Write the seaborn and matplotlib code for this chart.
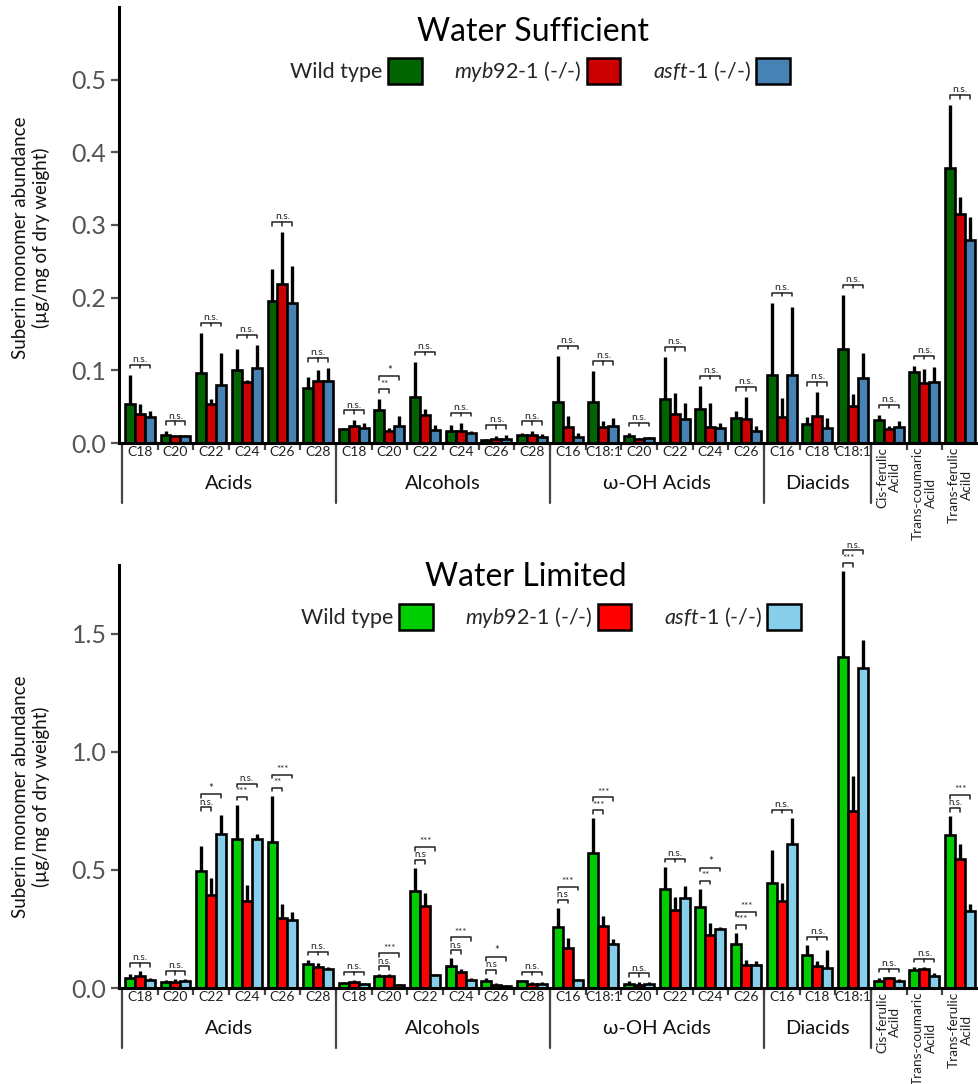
import matplotlib
matplotlib.use("Agg")
import matplotlib.pyplot as plt
import matplotlib.transforms as mtransforms
from matplotlib.patches import Patch
import numpy as np
import pandas as pd
import seaborn as sns

# ---------------- data ----------------
cat_labels = ["C18", "C20", "C22", "C24", "C26", "C28",
              "C18", "C20", "C22", "C24", "C26", "C28",
              "C16", "C18:1", "C20", "C22", "C24", "C26",
              "C16", "C18", "C18:1",
              "Cis-ferulic\nAcild", "Trans-coumaric\nAcild", "Trans-ferulic\nAcild"]
group_names = ["Acids", "Alcohols", "ω-OH Acids", "Diacids"]
group_sizes = [6, 6, 6, 3]
genotypes = ["Wild type", "myb92-1 (-/-)", "asft-1 (-/-)"]
legend_labels = ["Wild type", r"$\mathit{myb92}$-1 (-/-)", r"$\mathit{asft}$-1 (-/-)"]

# Water sufficient
ws_wt = [0.054, 0.011, 0.096, 0.100, 0.196, 0.076,
         0.019, 0.045, 0.063, 0.016, 0.004, 0.011,
         0.056, 0.057, 0.010, 0.060, 0.047, 0.035,
         0.094, 0.026, 0.129,
         0.031, 0.098, 0.378]
ws_wt_err = [0.040, 0.005, 0.056, 0.029, 0.043, 0.015,
             0.002, 0.015, 0.049, 0.009, 0.002, 0.003,
             0.064, 0.042, 0.004, 0.058, 0.032, 0.009,
             0.099, 0.010, 0.075,
             0.008, 0.008, 0.087]
ws_myb = [0.040, 0.009, 0.053, 0.084, 0.219, 0.086,
          0.023, 0.017, 0.039, 0.016, 0.0055, 0.011,
          0.022, 0.022, 0.005, 0.040, 0.022, 0.033,
          0.036, 0.037, 0.0505,
          0.019, 0.082, 0.3145]
ws_myb_err = [0.014, 0.002, 0.007, 0.003, 0.071, 0.015,
              0.008, 0.004, 0.008, 0.012, 0.0045, 0.005,
              0.015, 0.008, 0.002, 0.029, 0.033, 0.030,
              0.026, 0.033, 0.0175,
              0.005, 0.020, 0.0235]
ws_asft = [0.036, 0.010, 0.080, 0.103, 0.192, 0.085,
           0.021, 0.024, 0.018, 0.014, 0.006, 0.008,
           0.008, 0.024, 0.007, 0.033, 0.020, 0.0165,
           0.093, 0.021, 0.089,
           0.0216, 0.084, 0.280]
ws_asft_err = [0.008, 0.001, 0.044, 0.032, 0.051, 0.018,
               0.007, 0.013, 0.007, 0.003, 0.005, 0.005,
               0.006, 0.010, 0.001, 0.022, 0.007, 0.0065,
               0.094, 0.013, 0.035,
               0.008, 0.021, 0.031]
ws_sig = ["n.s."] * 7 + [("**", "*")] + ["n.s."] * 16

# Water limited
wl_wt = [0.0425, 0.0255, 0.496, 0.629, 0.620, 0.1006,
         0.020, 0.051, 0.411, 0.092, 0.028, 0.028,
         0.259, 0.572, 0.017, 0.421, 0.343, 0.186,
         0.446, 0.140, 1.401,
         0.030, 0.075, 0.646]
wl_wt_err = [0.0155, 0.0075, 0.104, 0.147, 0.193, 0.019,
             0.007, 0.007, 0.096, 0.033, 0.014, 0.006,
             0.081, 0.146, 0.011, 0.092, 0.078, 0.046,
             0.140, 0.043, 0.363,
             0.011, 0.013, 0.082]
wl_myb = [0.051, 0.0255, 0.392, 0.368, 0.297, 0.0907,
          0.024, 0.051, 0.348, 0.068, 0.0127, 0.018,
          0.169, 0.262, 0.014, 0.331, 0.224, 0.096,
          0.370, 0.0935, 0.749,
          0.041, 0.079, 0.548]
wl_myb_err = [0.020, 0.0125, 0.075, 0.068, 0.057, 0.014,
              0.010, 0.007, 0.054, 0.011, 0.010, 0.007,
              0.043, 0.041, 0.010, 0.054, 0.052, 0.024,
              0.076, 0.0225, 0.149,
              0.007, 0.012, 0.060]
wl_asft = [0.033, 0.031, 0.653, 0.630, 0.289, 0.081,
           0.0156, 0.0127, 0.054, 0.034, 0.0085, 0.017,
           0.033, 0.188, 0.017, 0.381, 0.251, 0.099,
           0.608, 0.086, 1.353,
           0.030, 0.052, 0.326]
wl_asft_err = [0.008, 0.007, 0.078, 0.024, 0.031, 0.007,
               0.004, 0.004, 0.006, 0.008, 0.0045, 0.007,
               0.005, 0.020, 0.007, 0.050, 0.007, 0.017,
               0.113, 0.073, 0.120,
               0.008, 0.010, 0.028]
wl_sig = ["n.s.", "n.s.", ("n.s.", "*"), ("***", "n.s."), ("**", "***"), "n.s.",
          "n.s.", ("n.s.", "***"), ("n.s", "***"), ("n.s", "***"), ("n.s", "*"), "n.s.",
          ("n.s", "***"), ("***", "***"), "n.s.", "n.s.", ("**", "*"), ("***", "***"),
          "n.s.", "n.s.", ("***", "n.s."),
          "n.s.", "n.s.", ("n.s.", "***")]

top_colors = ["#006400", "#cc0000", "#4682b4"]
bot_colors = ["#00cc00", "#ff0000", "#87ceeb"]

# ---------------- style ----------------
sns.set_style("white")
plt.rcParams["font.family"] = ["Lato", "DejaVu Sans"]
plt.rcParams["mathtext.fontset"] = "custom"
plt.rcParams["mathtext.it"] = "Lato:italic"
plt.rcParams["mathtext.rm"] = "Lato"

W, H = 979, 1084
fig = plt.figure(figsize=(W / 100, H / 100), dpi=100)

cat_keys = [f"{i}:{l}" for i, l in enumerate(cat_labels)]


def make_df(wt, myb, asft):
    rows = []
    for g, vals in zip(genotypes, [wt, myb, asft]):
        for k, v in zip(cat_keys, vals):
            rows.append({"key": k, "genotype": g, "value": v})
    return pd.DataFrame(rows)


def panel(ax_rect, ymax, yticks, ytick_labels, vals, errs, sigs, colors,
          offset_px, step_px):
    ax = fig.add_axes(ax_rect)
    df = make_df(*vals)
    sns.barplot(data=df, x="key", y="value", hue="genotype", order=cat_keys,
                hue_order=genotypes, palette=colors, width=0.84, gap=0,
                errorbar=None, edgecolor="black", linewidth=1.9,
                saturation=1, legend=False, ax=ax, zorder=2)
    n = len(cat_keys)
    ax.set_xlim(-0.584, n - 0.5 + 0.03)
    ax.set_ylim(0, ymax)
    upp = ymax / ax.bbox.height  # data units per pixel

    # error bars (upward only)
    conts = sorted(ax.containers, key=lambda c: c.patches[0].get_x())
    centers = []
    tops = []
    for ci, cont in enumerate(conts):
        pats = sorted(cont.patches, key=lambda p: p.get_x())
        xc = [p.get_x() + p.get_width() / 2 for p in pats]
        hs = [p.get_height() for p in pats]
        e = errs[ci]
        ax.vlines(xc, hs, [h + ee for h, ee in zip(hs, e)], color="black",
                  linewidth=2.4, zorder=3, clip_on=False)
        centers.append(xc)
        tops.append([h + ee for h, ee in zip(hs, e)])

    # significance brackets
    th = 3.5 * upp
    for i in range(n):
        xw, xm, xa = centers[0][i], centers[1][i], centers[2][i]
        ymaxg = max(tops[0][i], tops[1][i], tops[2][i])
        y1 = ymaxg + offset_px * upp
        s = sigs[i]
        if isinstance(s, tuple):
            pairs = [((xw, xm), s[0], y1), ((xw, xa), s[1], y1 + step_px * upp)]
            for (xa_, xb_), lab, yy in pairs:
                ax.plot([xa_, xa_, xb_, xb_], [yy - th, yy, yy, yy - th],
                        color="#222", lw=1.1, clip_on=False, zorder=4)
                ax.text((xa_ + xb_) / 2, yy + 0.8 * upp, lab, ha="center",
                        va="bottom", fontsize=7 if lab != "*" else 8,
                        color="#222", clip_on=False)
        else:
            ax.plot([xw, xw, xa, xa], [y1 - th, y1, y1, y1 - th],
                    color="#222", lw=1.1, clip_on=False, zorder=4)
            ax.plot([xm, xm], [y1, y1 - th], color="#222", lw=1.1,
                    clip_on=False, zorder=4)
            ax.text(xm, y1 + 0.8 * upp, s, ha="center", va="bottom",
                    fontsize=7.5, color="#222", clip_on=False)

    # axes styling
    sns.despine(ax=ax)
    ax.spines["left"].set_linewidth(2.2)
    ax.spines["bottom"].set_linewidth(2.2)
    ax.spines["left"].set_color("black")
    ax.spines["bottom"].set_color("black")
    ax.set_xlabel("")
    ax.set_ylabel("")
    ax.set_yticks(yticks)
    ax.set_yticklabels(ytick_labels, fontsize=18, color="#555555")
    ax.tick_params(axis="y", length=6, width=1.6, color="#555555", pad=3,
                   left=True)
    ax.set_xticks(range(n))
    ax.set_xticklabels(cat_labels, fontsize=10, color="#222")
    ax.tick_params(axis="x", which="major", length=0, pad=2.5, bottom=True)
    ax.set_xticks(np.arange(0.5, n - 1, 1), minor=True)
    ax.tick_params(axis="x", which="minor", length=5, width=1.6,
                   color="#444", bottom=True, direction="out")
    for lab in ax.get_xticklabels()[-3:]:
        lab.set_rotation(90)
        lab.set_va("top")
        lab.set_ha("center")
        lab.set_multialignment("center")
        lab.set_fontsize(9.8)
        lab.set_linespacing(1.1)

    # group separators and labels
    hpx = ax.bbox.height
    bounds = np.cumsum([0] + group_sizes) - 0.5
    for b in bounds:
        ax.plot([b, b], [0, -60 / hpx], transform=ax.get_xaxis_transform(),
                color="#444", lw=1.6, clip_on=False)
    for gi, name in enumerate(group_names):
        xc = (bounds[gi] + bounds[gi + 1]) / 2
        ax.text(xc, -40 / hpx, name, transform=ax.get_xaxis_transform(),
                ha="center", va="center", fontsize=14.5, color="#111")
    return ax


ax1 = panel([119 / W, 1 - 443 / H, 860 / W, 436 / H], 0.6,
            [0, 0.1, 0.2, 0.3, 0.4, 0.5],
            ["0.0", "0.1", "0.2", "0.3", "0.4", "0.5"],
            [ws_wt, ws_myb, ws_asft], [ws_wt_err, ws_myb_err, ws_asft_err],
            ws_sig, top_colors, 10, 13)
ax2 = panel([119 / W, 1 - 988 / H, 860 / W, 423 / H], 1.791,
            [0, 0.5, 1.0, 1.5], ["0.0", "0.5", "1.0", "1.5"],
            [wl_wt, wl_myb, wl_asft], [wl_wt_err, wl_myb_err, wl_asft_err],
            wl_sig, bot_colors, 8, 13)

# titles
fig.text(533 / W, 1 - 32 / H, "Water Sufficient", ha="center", va="center",
         fontsize=23, color="black")
fig.text(526 / W, 1 - 577 / H, "Water Limited", ha="center", va="center",
         fontsize=23, color="black")

# y labels
ylab = "Suberin monomer abundance\n(µg/mg of dry weight)"
fig.text(31 / W, 1 - 238 / H, ylab, rotation=90, ha="center", va="center",
         fontsize=13.5, color="#111", multialignment="center",
         linespacing=1.25)
fig.text(31 / W, 1 - 797 / H, ylab, rotation=90, ha="center", va="center",
         fontsize=13.5, color="#111", multialignment="center",
         linespacing=1.25)


# legends
def add_legend(colors, cx, cy):
    handles = [Patch(facecolor=c, edgecolor="black", linewidth=1.8)
               for c in colors]
    fig.legend(handles, legend_labels, loc="center",
               bbox_to_anchor=(cx / W, 1 - cy / H), ncol=3, frameon=False,
               markerfirst=False, handlelength=1.55, handleheight=1.55,
               handletextpad=0.25, columnspacing=1.5, fontsize=15.5,
               borderpad=0)


add_legend(top_colors, 540, 71)
add_legend(bot_colors, 551, 617)

fig.savefig("out.png", dpi=100)
